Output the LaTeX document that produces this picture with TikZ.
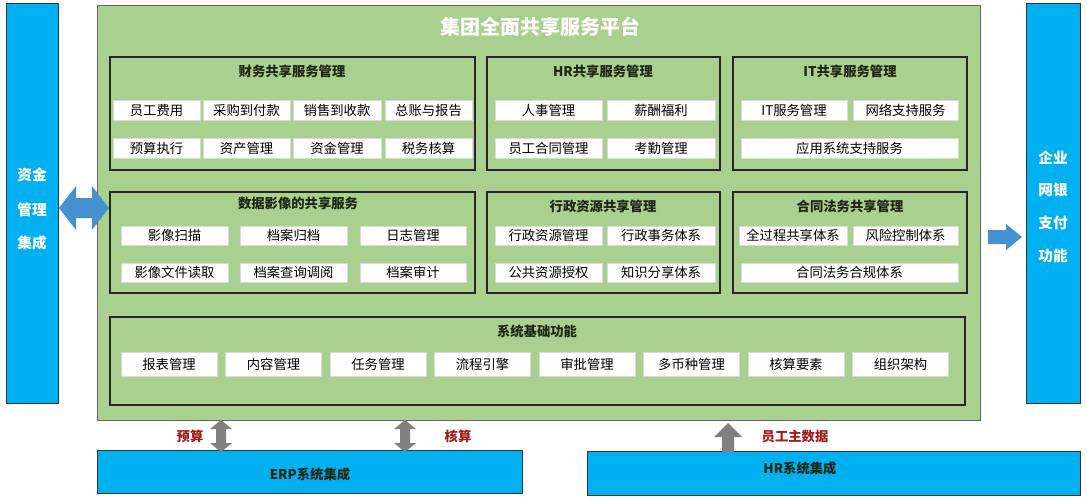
\documentclass[tikz,border=0pt]{standalone}
\usepackage{fontspec}
\setmainfont{Noto Sans CJK SC}
\definecolor{platgreen}{RGB}{169,208,142}
\definecolor{barblue}{RGB}{0,176,240}
\definecolor{arrblue}{RGB}{70,145,210}
\definecolor{labred}{RGB}{160,30,30}
\definecolor{titgreen}{RGB}{30,40,20}
\tikzset{every picture/.style={line width=0.75pt}}
\tikzset{
  panel/.style={draw=black!85, line width=1pt},
  item/.style={fill=white, draw=white!85!black, inner sep=0pt, font=\fontsize{10}{10}\selectfont},
  ptitle/.style={font=\bfseries\fontsize{10}{10}\selectfont, text=titgreen},
  bartext/.style={font=\bfseries\fontsize{11}{11}\selectfont, text=white},
  redlab/.style={font=\bfseries\fontsize{10}{10}\selectfont, text=labred},
}
\newcommand{\itembox}[6]{\draw[item] (#1,#2) rectangle (#3,#4); \node[font=\fontsize{10}{10}\selectfont] (#6) at ({(#1+#3)/2},{(#2+#4)/2}) {#5};}
% vertical gray double arrow centred at x=#1, from y=#2 to y=#3
\newcommand{\vdarrow}[3]{\fill[gray] (#1,#2) -- (#1+11,#2+9) -- (#1+5,#2+9) -- (#1+5,#3-9) -- (#1+11,#3-9) -- (#1,#3) -- (#1-11,#3-9) -- (#1-5,#3-9) -- (#1-5,#2+9) -- (#1-11,#2+9) -- cycle;}
\begin{document}
\begin{tikzpicture}[x=0.75pt,y=0.75pt,yscale=-1,xscale=1]
\useasboundingbox (0,0) rectangle (1087,500);

% side bars
\draw[fill=barblue, draw=black!80] (6,3) rectangle (58,403);
\node[bartext] (lb1) at (32,175) {资金};
\node[bartext] (lb2) at (32,210) {管理};
\node[bartext] (lb3) at (32,243) {集成};
\draw[fill=barblue, draw=black!80] (1026,3) rectangle (1080,403);
\node[bartext] (rb1) at (1053,158) {企业};
\node[bartext] (rb2) at (1053,190) {网银};
\node[bartext] (rb3) at (1053,223) {支付};
\node[bartext] (rb4) at (1053,256) {功能};

% platform
\draw[fill=platgreen, draw=black!60] (97,5) rectangle (980,420);
\node[font=\bfseries\fontsize{15}{15}\selectfont, text=white] (plat) at (540,27) {集团全面共享服务平台};

% finance
\draw[panel] (110,57) rectangle (475,170);
\node[ptitle] (fin) at (292,71) {财务共享服务管理};
\itembox{113}{100}{200}{120}{员工费用}{f1}
\itembox{203}{100}{290}{120}{采购到付款}{f2}
\itembox{293}{100}{381}{120}{销售到收款}{f3}
\itembox{385}{100}{472}{120}{总账与报告}{f4}
\itembox{113}{138}{200}{158}{预算执行}{f5}
\itembox{203}{138}{290}{158}{资产管理}{f6}
\itembox{293}{138}{381}{158}{资金管理}{f7}
\itembox{385}{138}{472}{158}{税务核算}{f8}

% hr
\draw[panel] (487,57) rectangle (720,170);
\node[ptitle] (hr) at (603,71) {HR共享服务管理};
\itembox{495}{100}{602}{120}{人事管理}{h1}
\itembox{607}{100}{715}{120}{薪酬福利}{h2}
\itembox{495}{138}{602}{158}{员工合同管理}{h3}
\itembox{607}{138}{715}{158}{考勤管理}{h4}

% it
\draw[panel] (733,57) rectangle (967,170);
\node[ptitle] (it) at (850,71) {IT共享服务管理};
\itembox{741}{100}{847}{120}{IT服务管理}{i1}
\itembox{853}{100}{958}{120}{网络支持服务}{i2}
\itembox{741}{138}{958}{158}{应用系统支持服务}{i3}

% data image
\draw[panel] (110,192) rectangle (475,293);
\node[ptitle] (img) at (298,203) {数据影像的共享服务};
\itembox{121}{226}{228}{245}{影像扫描}{d1}
\itembox{240}{226}{347}{245}{档案归档}{d2}
\itembox{360}{226}{466}{245}{日志管理}{d3}
\itembox{121}{263}{228}{282}{影像文件读取}{d4}
\itembox{240}{263}{347}{282}{档案查询调阅}{d5}
\itembox{360}{263}{466}{282}{档案审计}{d6}

% admin
\draw[panel] (487,192) rectangle (720,293);
\node[ptitle] (adm) at (603,206) {行政资源共享管理};
\itembox{495}{226}{602}{245}{行政资源管理}{a1}
\itembox{607}{226}{715}{245}{行政事务体系}{a2}
\itembox{495}{263}{602}{282}{公共资源授权}{a3}
\itembox{607}{263}{715}{282}{知识分享体系}{a4}

% contract
\draw[panel] (733,192) rectangle (967,293);
\node[ptitle] (con) at (850,206) {合同法务共享管理};
\itembox{739}{226}{847}{245}{全过程共享体系}{c1}
\itembox{853}{226}{958}{245}{风险控制体系}{c2}
\itembox{741}{263}{958}{282}{合同法务合规体系}{c3}

% system
\draw[panel] (110,317) rectangle (965,405);
\node[ptitle] (sys) at (537,331) {系统基础功能};
\foreach \t [count=\i from 0] in {报表管理,内容管理,任务管理,流程引擎,审批管理,多币种管理,核算要素,组织架构}{
  \itembox{121+\i*104.5}{352}{217+\i*104.5}{376}{\t}{s\i}
}

% bottom systems
\draw[fill=barblue, draw=black!80] (97,450) rectangle (522,493);
\node[font=\bfseries\fontsize{10}{10}\selectfont, text=titgreen] (erp) at (310,474) {ERP系统集成};
\draw[fill=barblue, draw=black!80] (587,451) rectangle (1080,495);
\node[font=\bfseries\fontsize{10}{10}\selectfont, text=titgreen] (hrs) at (800,468) {HR系统集成};

% block arrows
\fill[arrblue] (59,208) -- (76,186) -- (76,198) -- (92,198) -- (92,186) -- (109,208) -- (92,230) -- (92,218) -- (76,218) -- (76,230) -- cycle;
\fill[arrblue] (988,230) -- (1006,230) -- (1006,224) -- (1022,237) -- (1006,250) -- (1006,244) -- (988,244) -- cycle;
\vdarrow{221}{420}{452}
\vdarrow{405}{420}{452}
\fill[gray] (728,423) -- (742,437) -- (734,437) -- (734,452) -- (722,452) -- (722,437) -- (714,437) -- cycle;
\node[redlab] (l1) at (190,436) {预算};
\node[redlab] (l2) at (458,436) {核算};
\node[redlab] (l3) at (795,436) {员工主数据};
\end{tikzpicture}
\end{document}
